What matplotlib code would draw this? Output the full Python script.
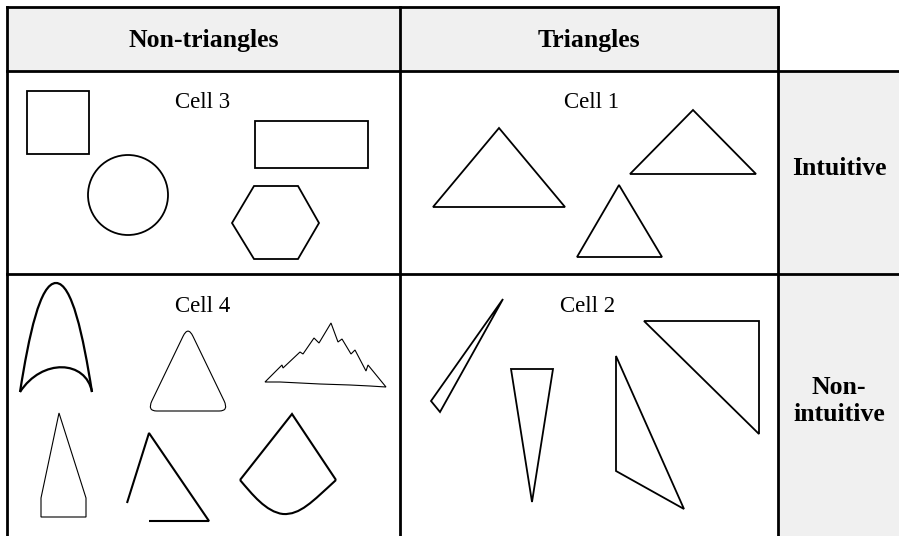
import matplotlib
matplotlib.use("Agg")
import matplotlib.pyplot as plt
import numpy as np
from matplotlib.path import Path
from matplotlib.patches import PathPatch, Rectangle, Circle, Polygon

plt.rcParams['font.family'] = ['Liberation Serif', 'DejaVu Serif']

# table grid (pixel coordinates, y downwards)
col_edges = [7, 400, 778, 899]
row_edges = [7, 71, 274, 536]
col_headers = ["Non-triangles", "Triangles"]
row_headers = ["Intuitive", "Non-\nintuitive"]
cell_labels = [["Cell 3", "Cell 1"], ["Cell 4", "Cell 2"]]
gray = "#f0f0f0"

# cell 3 : non-triangles, intuitive
square = [(27, 91), (89, 91), (89, 154), (27, 154)]
rect = [(255, 121), (368, 121), (368, 168), (255, 168)]
circle_c, circle_r = (128, 195), 40
hexagon = [(254, 186), (298, 186), (319, 223), (298, 259), (254, 259), (232, 223)]

# cell 1 : triangles, intuitive
tri_a = [(499, 128), (565, 207), (433, 207)]
tri_b = [(693, 110), (756, 174), (630, 174)]
tri_c = [(619, 185), (662, 257), (577, 257)]

# cell 4 : non-triangles, non-intuitive
arch_left = [(20, 392), (29, 335), (40, 283), (56, 283)]
arch_right = [(56, 283), (72, 283), (83, 335), (92, 392)]
arch_bottom = [(92, 392), (86, 360), (42, 358), (20, 392)]
round_tri = [(188, 326), (229, 411), (147, 411)]
mountain = [(265, 382), (282, 365), (283, 368), (300, 352), (303, 354), (314, 338),
            (319, 343), (331, 323), (338, 342), (342, 339), (351, 354), (355, 350),
            (366, 371), (368, 365), (386, 387), (370, 386), (350, 385), (320, 384),
            (300, 383), (280, 382)]
house = [(59, 413), (86, 498), (86, 517), (41, 517), (41, 498)]
open_tri = [(127, 503), (149, 433), (209, 521), (149, 521)]
kite_top = [(240, 480), (292, 414), (336, 480)]
kite_bottom = [(336, 480), (312, 502), (300, 515), (283, 514), (266, 512), (252, 494), (240, 480)]

# cell 2 : triangles, non-intuitive
sliver = [(503, 299), (440, 412), (431, 401)]
narrow = [(511, 369), (553, 369), (532, 502)]
obtuse = [(616, 356), (684, 509), (616, 471)]
right_tri = [(644, 321), (759, 321), (759, 434)]

fig = plt.figure(figsize=(8.99, 5.36), dpi=100)
ax = fig.add_axes([0, 0, 1, 1])
ax.set_xlim(0, 899)
ax.set_ylim(536, 0)
ax.axis('off')

# gray header backgrounds
ax.add_patch(Rectangle((col_edges[0], row_edges[0]), col_edges[2] - col_edges[0],
                       row_edges[1] - row_edges[0], color=gray, zorder=0))
ax.add_patch(Rectangle((col_edges[2], row_edges[1]), col_edges[3] - col_edges[2],
                       row_edges[3] - row_edges[1], color=gray, zorder=0))

# grid lines
blw = 2.0
for x in col_edges[:3]:
    ax.plot([x, x], [row_edges[0], row_edges[3]], color='black', lw=blw, solid_capstyle='projecting')
ax.plot([col_edges[0], col_edges[2]], [row_edges[0], row_edges[0]], color='black', lw=blw, solid_capstyle='projecting')
for y in row_edges[1:3]:
    ax.plot([col_edges[0], col_edges[3]], [y, y], color='black', lw=blw, solid_capstyle='projecting')

# text
for j, h in enumerate(col_headers):
    ax.text((col_edges[j] + col_edges[j + 1]) / 2, 41, h, ha='center', va='center',
            fontsize=18.5, fontweight='bold')
for i, h in enumerate(row_headers):
    ax.text(839, (row_edges[i + 1] + row_edges[i + 2]) / 2 - 4, h, ha='center', va='center',
            fontsize=18.5, fontweight='bold', linespacing=1.25)
label_pos = [[(203, 103), (592, 103)], [(203, 306), (588, 306)]]
for i in range(2):
    for j in range(2):
        x, y = label_pos[i][j]
        ax.text(x, y, cell_labels[i][j], ha='center', va='center', fontsize=16.5)

lw = 1.3
thin = 0.8


def poly(pts, closed=True, w=lw):
    ax.add_patch(Polygon(pts, closed=closed, fill=False, ec='black', lw=w, joinstyle='miter'))


def curve(pts, w=lw):
    # cubic bezier pieces: start point then groups of three
    codes = [Path.MOVETO] + [Path.CURVE4] * (len(pts) - 1)
    ax.add_patch(PathPatch(Path(pts, codes), fill=False, ec='black', lw=w))


def rounded(pts, r=0.12, w=thin):
    p = np.array(pts, float)
    n = len(p)
    verts, codes = [], []
    for k in range(n):
        prev, cur, nxt = p[k - 1], p[k], p[(k + 1) % n]
        a = cur + (prev - cur) * r
        b = cur + (nxt - cur) * r
        verts.append(a)
        codes.append(Path.MOVETO if k == 0 else Path.LINETO)
        verts += [cur, b]
        codes += [Path.CURVE3, Path.CURVE3]
    verts.append(verts[0])
    codes.append(Path.LINETO)
    ax.add_patch(PathPatch(Path(verts, codes), fill=False, ec='black', lw=w))


# cell 3
poly(square)
poly(rect)
ax.add_patch(Circle(circle_c, circle_r, fill=False, ec='black', lw=lw))
poly(hexagon)

# cell 1
for t in (tri_a, tri_b, tri_c):
    poly(t)

# cell 4
curve(arch_left, w=1.6)
curve(arch_right, w=1.6)
curve(arch_bottom, w=1.6)
rounded(round_tri)
poly(mountain, w=thin)
poly(house, w=thin)
poly(open_tri, closed=False, w=1.5)
poly(kite_top, closed=False, w=1.5)
curve(kite_bottom, w=1.5)

# cell 2
for t in (sliver, narrow, obtuse, right_tri):
    poly(t)

fig.savefig("out.png", dpi=100)
